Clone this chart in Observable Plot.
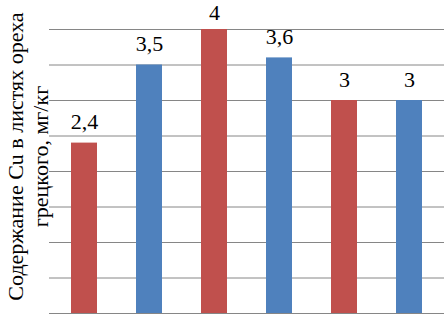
<!DOCTYPE html>
<html>
<head>
<meta charset="utf-8">
<script src="https://cdn.jsdelivr.net/npm/d3@7"></script>
<script src="https://cdn.jsdelivr.net/npm/@observablehq/plot@0.6"></script>
<style>
  html, body { margin: 0; padding: 0; background: #fff; }
  #chart svg, #chart svg text { font-family: "Liberation Serif", "Times New Roman", serif !important; }
</style>
</head>
<body>
<div id="chart"></div>
<script>
const categories = ["1", "2", "3", "4", "5", "6"];
const values = [2.4, 3.5, 4, 3.6, 3, 3];
const groups = ["A", "B", "A", "B", "A", "B"];
const gridTicks = [0, 0.5, 1, 1.5, 2, 2.5, 3, 3.5, 4];
const yLabel = "Содержание Cu в листях ореха\nгрецкого, мг/кг";

const data = categories.map((c, i) => ({cat: c, value: values[i], group: groups[i]}));
const fmt = v => String(v).replace(".", ",");
const yMax = 4;

const labelStyle = {x: "cat", y: "value", text: d => fmt(d.value), lineAnchor: "bottom", fontSize: 22, fill: "#000"};

const chart = Plot.plot({
  width: 445,
  height: 314,
  marginLeft: 49,
  marginRight: 1,
  marginTop: 29,
  marginBottom: 1,
  style: {background: "#fff"},
  x: {domain: categories, paddingInner: 0.6, paddingOuter: 0.3, axis: null},
  y: {domain: [0, yMax], axis: null},
  color: {domain: ["A", "B"], range: ["#C0504D", "#4F81BD"]},
  marks: [
    Plot.ruleY(gridTicks, {stroke: "#868686", strokeWidth: 1}),
    Plot.barY(data, {x: "cat", y: "value", fill: "group"}),
    Plot.text(data.filter(d => d.value < yMax), {...labelStyle, dy: -14}),
    Plot.text(data.filter(d => d.value >= yMax), {...labelStyle, dy: -9.5}),
    Plot.text([yLabel], {
      frameAnchor: "left", text: d => d, rotate: -90,
      dx: -22, dy: -15, lineAnchor: "middle", textAnchor: "middle",
      lineHeight: 1.12,
      fontSize: 22, fill: "#000"
    })
  ]
});
document.getElementById("chart").appendChild(chart);
</script>
</body>
</html>
